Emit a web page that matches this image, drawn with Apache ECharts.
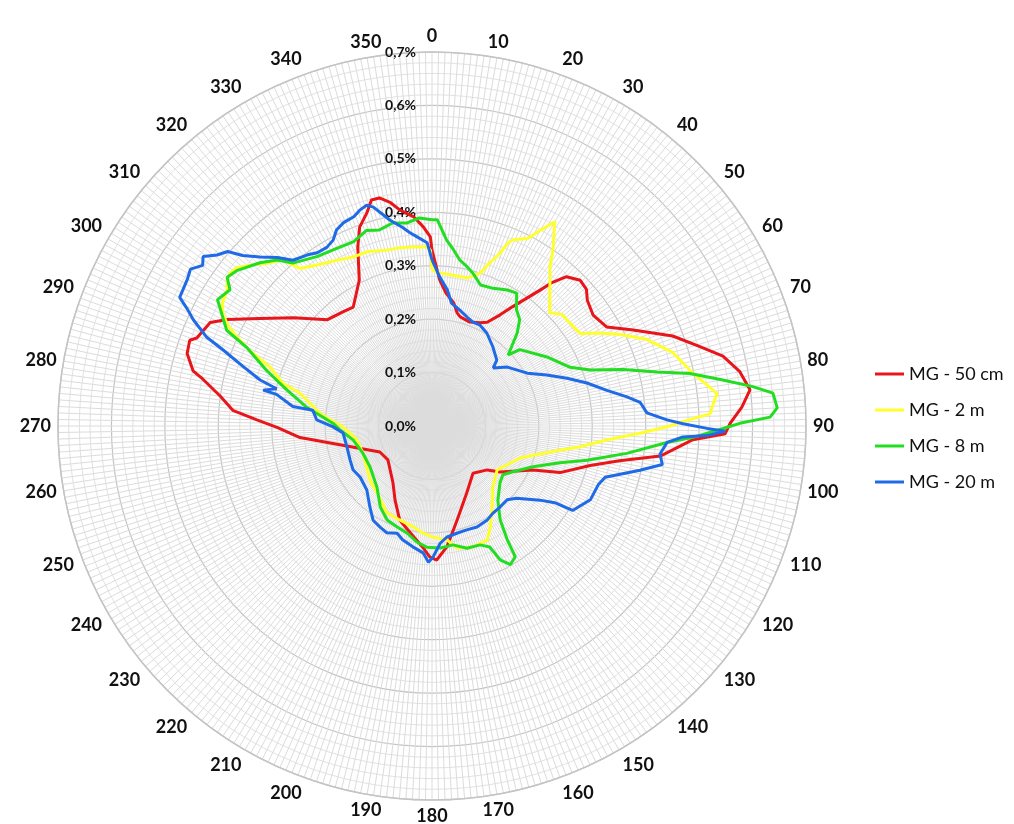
<!DOCTYPE html>
<html>
<head>
<meta charset="utf-8">
<script src="https://cdn.jsdelivr.net/npm/echarts@6/dist/echarts.min.js"></script>
<style>
html,body{margin:0;padding:0;background:#fff;}
#chart{width:1014px;height:824px;}
</style>
</head>
<body>
<div id="chart"></div>
<script>
// Direction (degrees) and share (%) per series
const seriesNames = ['MG - 50 cm', 'MG - 2 m', 'MG - 8 m', 'MG - 20 m'];
const seriesColors = ['#e8161b', '#ffff2e', '#22dd22', '#1f6ae6'];

const redAngles = [0,3,6,10,12.5,14.5,20,25,28,31.5,34,38.5,40,42,45.5,48.5,51,55.5,60.5,64.5,69.5,73.5,76.5,80,83.5,86.5,89.5,91.5,93,97.5,100.5,104,110,113.5,124,128.5,139,152.5,165,173,178,181,184.5,191.5,199,206.5,214.5,232.5,243.5,258.5,265,269.5,272,274.5,278,281.5,283,286.5,289.5,290.5,295,297.5,302,308,315.5,322,326.5,333.5,337.5,340,343,345,347,349.5,351.5,355,357.5,359.5];
const redValues = [0.329,0.274,0.250,0.234,0.217,0.211,0.207,0.213,0.220,0.244,0.269,0.325,0.351,0.376,0.389,0.386,0.374,0.366,0.376,0.417,0.481,0.523,0.560,0.585,0.599,0.581,0.558,0.549,0.489,0.431,0.357,0.305,0.255,0.206,0.154,0.132,0.117,0.141,0.182,0.228,0.251,0.245,0.227,0.204,0.186,0.155,0.129,0.104,0.109,0.176,0.248,0.290,0.328,0.374,0.400,0.437,0.459,0.478,0.481,0.470,0.458,0.432,0.380,0.329,0.279,0.271,0.267,0.305,0.363,0.396,0.417,0.438,0.438,0.425,0.409,0.393,0.373,0.354];

const yellowAngles = [0,3,8,13.5,17.5,19.5,21.5,22.5,23.5,27,29,31,34.5,36.5,39,46,49.5,53.5,58,61,64,68,73,78.5,83.5,85.5,87.5,88,89,90,92,94.5,98,103,110,117.5,124,135,143.5,150,154,161.5,168.5,172.5,179.5,185,190.5,199,207.5,219.5,229,248.5,259.5,265,269.5,273.5,276.5,284,286,290,292.5,294.5,296.5,298.5,300.5,303.5,305.5,307,309,312,314.5,318,320,324.5,330,335,339.5,345.5,350,354,358.5,359.5];
const yellowValues = [0.292,0.287,0.285,0.285,0.300,0.324,0.348,0.370,0.380,0.394,0.419,0.446,0.400,0.371,0.351,0.306,0.321,0.322,0.327,0.359,0.391,0.433,0.471,0.498,0.537,0.528,0.521,0.502,0.470,0.445,0.390,0.329,0.280,0.221,0.175,0.158,0.147,0.161,0.189,0.218,0.237,0.239,0.233,0.215,0.208,0.201,0.192,0.186,0.183,0.162,0.154,0.139,0.143,0.154,0.167,0.191,0.211,0.255,0.290,0.323,0.369,0.401,0.429,0.446,0.455,0.460,0.471,0.474,0.471,0.451,0.434,0.418,0.385,0.370,0.358,0.349,0.348,0.340,0.339,0.337,0.335,0.329];

const greenAngles = [0,1.5,4.5,7,9.5,12.5,15,19,24,29,32.5,36,39.5,42.5,47,49,59,67,70.5,73.5,76.5,78.5,81,83,84.5,87,88.5,89.5,90.5,92.5,94,98,102.5,106,112,119.5,124.5,130,138.5,144,146.5,147.5,150.5,153,154.5,158,164,170,176,182.5,187.5,193,199,205.5,212.5,222,236.5,248.5,260,267.5,271.5,278.5,284,288.5,293,295,300.5,304,306,308.5,313.5,317,319.5,326,330.5,337,341.5,345,349,353,356.5];
const greenValues = [0.386,0.386,0.349,0.332,0.315,0.305,0.296,0.279,0.282,0.291,0.295,0.269,0.258,0.236,0.195,0.218,0.251,0.281,0.314,0.373,0.433,0.493,0.551,0.605,0.641,0.647,0.633,0.576,0.545,0.489,0.441,0.368,0.297,0.249,0.204,0.174,0.161,0.166,0.186,0.217,0.255,0.290,0.298,0.281,0.251,0.240,0.238,0.226,0.229,0.227,0.219,0.206,0.200,0.195,0.180,0.154,0.139,0.139,0.150,0.172,0.185,0.237,0.280,0.326,0.377,0.424,0.466,0.456,0.474,0.467,0.444,0.425,0.401,0.383,0.378,0.375,0.386,0.380,0.387,0.383,0.390];

const blueAngles = [0,3,6.5,9,13.5,18,21.5,25.5,30.5,37.5,44.5,46.5,52,61,66,70.5,74.5,78.5,81.5,83.5,86.5,88.5,89.5,90.5,91,92,92.5,94,97,99.5,102,106.5,109.5,115,121,122,124.5,130.5,134.5,140,145,149.5,156,161.5,167,172.5,176,179.5,181.5,184,189,194.5,198,203,207,212,217.5,225.5,234.5,241,247.5,256,265.5,269.5,273,277.5,278,281.5,282,283.5,285,287.5,290,291.5,294,295.5,297,301,303,305,306.5,308.5,310.5,312,314.5,317.5,320,324,326.5,329.5,332,334,336.5,339.5,341.5,343.5,345,346.5,348.5,351.5,353.5,355.5,358.5];
const blueValues = [0.311,0.279,0.256,0.233,0.223,0.214,0.209,0.209,0.202,0.187,0.173,0.158,0.179,0.204,0.235,0.268,0.301,0.334,0.369,0.392,0.403,0.440,0.470,0.515,0.549,0.515,0.470,0.441,0.430,0.437,0.398,0.338,0.330,0.327,0.307,0.271,0.245,0.208,0.197,0.198,0.199,0.204,0.207,0.205,0.206,0.210,0.220,0.245,0.255,0.238,0.229,0.220,0.211,0.217,0.213,0.208,0.191,0.171,0.165,0.169,0.166,0.164,0.167,0.185,0.216,0.225,0.263,0.297,0.323,0.299,0.333,0.371,0.416,0.453,0.489,0.507,0.530,0.534,0.539,0.524,0.533,0.514,0.503,0.477,0.451,0.428,0.405,0.396,0.389,0.388,0.394,0.408,0.415,0.418,0.426,0.431,0.424,0.410,0.393,0.376,0.364,0.355,0.343];

const angleLabelStep = 10;
const radiusTicks = [0, 0.1, 0.2, 0.3, 0.4, 0.5, 0.6, 0.7];

function polarData(angles, values) {
  const d = values.map((v, i) => [v, angles[i]]);
  d.push([values[0], angles[0] + 360]);
  return d;
}

const allAngles = [redAngles, yellowAngles, greenAngles, blueAngles];
const allValues = [redValues, yellowValues, greenValues, blueValues];

const chart = echarts.init(document.getElementById('chart'), null, {renderer: 'canvas'});
chart.setOption({
  animation: false,
  backgroundColor: '#ffffff',
  polar: { center: [432, 426], radius: 374 },
  angleAxis: {
    type: 'value', min: 0, max: 360, interval: angleLabelStep,
    startAngle: 90, clockwise: true,
    axisLine: { show: true, lineStyle: { color: '#c4c4c4', width: 1.5 } },
    axisTick: { show: false },
    minorTick: { show: false, splitNumber: 10 },
    axisLabel: {
      margin: 7,
      fontFamily: 'Lato', fontWeight: 'bold', fontSize: 18, color: '#111',
      formatter: v => (v >= 360 ? '' : String(v))
    },
    splitLine: { show: true, lineStyle: { color: '#dcdcdc', width: 1 } },
    minorSplitLine: { show: true, lineStyle: { color: '#dcdcdc', width: 1 } }
  },
  radiusAxis: {
    type: 'value', min: radiusTicks[0], max: radiusTicks[radiusTicks.length - 1], interval: 0.1,
    axisLine: { show: false },
    axisTick: { show: false },
    minorTick: { show: false, splitNumber: 5 },
    axisLabel: {
      fontFamily: 'Lato', fontWeight: 'bold', fontSize: 14, color: '#111', margin: 16,
      formatter: v => v.toFixed(1).replace('.', ',') + '%'
    },
    splitLine: { show: true, lineStyle: { color: '#c4c4c4', width: 1.2 } },
    minorSplitLine: { show: true, lineStyle: { color: '#e2e2e2', width: 1 } }
  },
  legend: {
    orient: 'vertical', left: 870, top: 360,
    icon: 'rect', itemWidth: 29, itemHeight: 3, itemGap: 18,
    textStyle: { fontFamily: 'Lato', fontSize: 18, color: '#111' },
    data: seriesNames
  },
  series: seriesNames.map((name, i) => ({
    name: name, type: 'line', coordinateSystem: 'polar',
    showSymbol: false, symbol: 'none', clip: false, z: 5,
    color: seriesColors[i],
    lineStyle: { color: seriesColors[i], width: 3 },
    data: polarData(allAngles[i], allValues[i])
  }))
});
</script>
</body>
</html>
